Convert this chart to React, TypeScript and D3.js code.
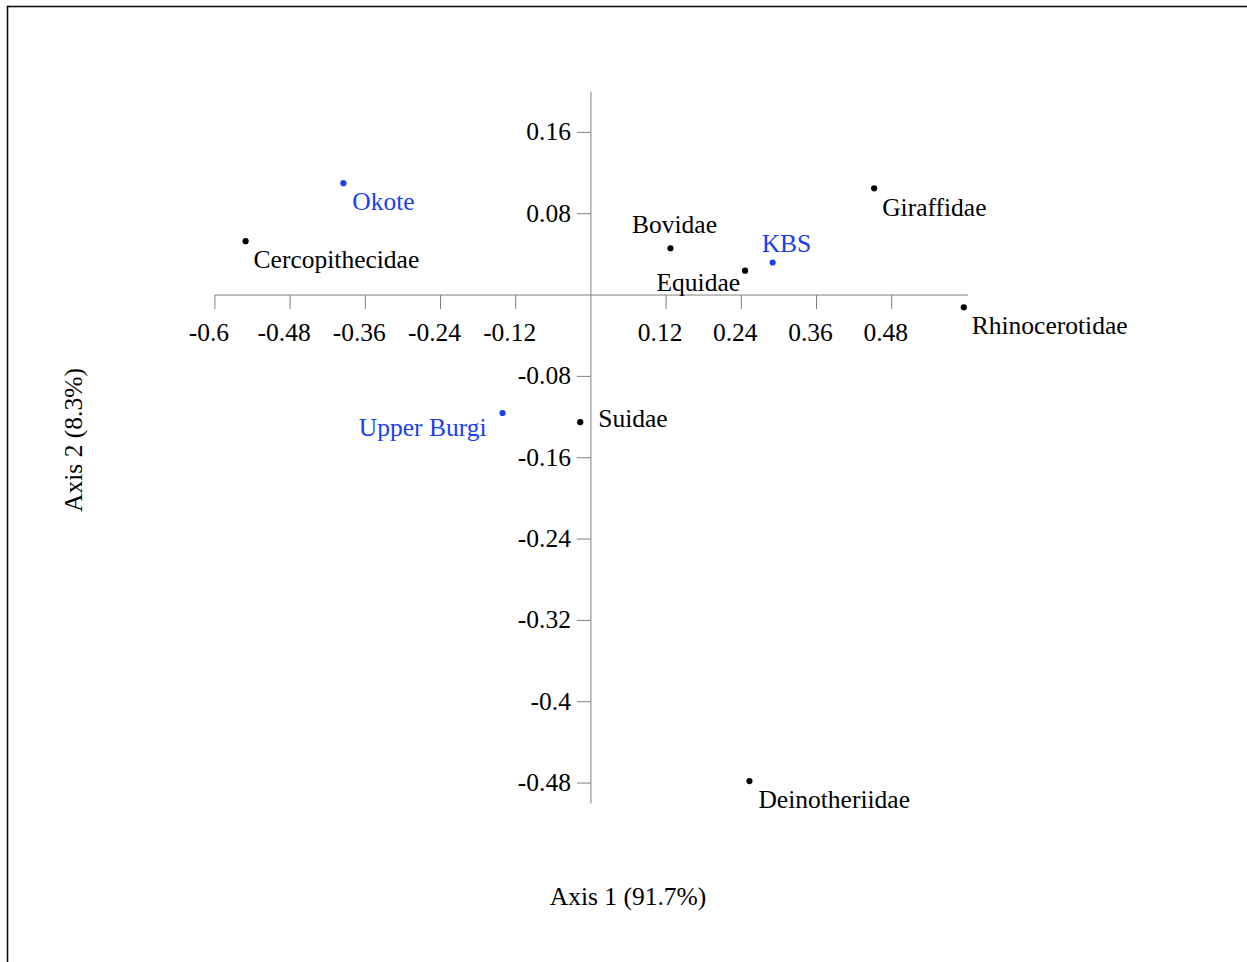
import React from "react";
import * as d3 from "d3";

// Correspondence analysis scores: taxa (black) and members (blue)
const taxa = ["Cercopithecidae", "Bovidae", "Equidae", "Giraffidae", "Rhinocerotidae", "Suidae", "Deinotheriidae"];
const taxaAxis1 = [-0.551, 0.127, 0.246, 0.452, 0.595, -0.017, 0.253];
const taxaAxis2 = [0.053, 0.046, 0.024, 0.105, -0.012, -0.125, -0.478];

const members = ["Okote", "KBS", "Upper Burgi"];
const membersAxis1 = [-0.395, 0.29, -0.141];
const membersAxis2 = [0.11, 0.032, -0.116];

const xTicks = [-0.6, -0.48, -0.36, -0.24, -0.12, 0.12, 0.24, 0.36, 0.48];
const yTicks = [0.16, 0.08, -0.08, -0.16, -0.24, -0.32, -0.4, -0.48];

const xTitle = "Axis 1 (91.7%)";
const yTitle = "Axis 2 (8.3%)";

// label placement relative to each point: [dx, dy, anchor]
const labelPlacement: Record<string, [number, number, string]> = {
  Cercopithecidae: [8, 27, "start"],
  Bovidae: [4, -15, "middle"],
  Equidae: [-5, 20, "end"],
  Giraffidae: [8, 28, "start"],
  Rhinocerotidae: [8, 27, "start"],
  Suidae: [18, 5, "start"],
  Deinotheriidae: [9, 27, "start"],
  Okote: [9, 27, "start"],
  KBS: [-11, -11, "start"],
  "Upper Burgi": [-16, 23, "end"],
};

const FONT = "'Liberation Serif', 'Times New Roman', serif";
const BLUE = "#1a3ff2";
const AXIS = "#808080";

export default function App() {
  const x = d3.scaleLinear().domain([-0.6, 0.6]).range([214.9, 966.9]);
  const y = d3.scaleLinear().domain([-0.5, 0.2]).range([803.4, 91.7]);
  const x0 = x(0);
  const y0 = y(0);

  const points = [
    ...taxa.map((name, i) => ({ name, a: taxaAxis1[i], b: taxaAxis2[i], color: "#000" })),
    ...members.map((name, i) => ({ name, a: membersAxis1[i], b: membersAxis2[i], color: BLUE })),
  ];

  return (
    <svg
      width={1247}
      height={962}
      style={{ position: "absolute", left: 0, top: 0, background: "#fff" }}
      fontFamily={FONT}
      fontSize={25.5}
    >
      <rect x={7.5} y={6.5} width={1300} height={1000} fill="none" stroke="#111" strokeWidth={1.6} />

      {/* horizontal axis */}
      <line x1={x(-0.6)} x2={x(0.6) + 1} y1={y0} y2={y0} stroke={AXIS} strokeWidth={1} />
      {xTicks.map((t) => (
        <g key={"xt" + t}>
          <line x1={x(t)} x2={x(t)} y1={y0} y2={y0 + 14} stroke={AXIS} strokeWidth={1} />
          <text x={x(t) - 6} y={y0 + 46} textAnchor="middle" fill="#000">
            {String(t)}
          </text>
        </g>
      ))}

      {/* vertical axis */}
      <line x1={x0} x2={x0} y1={y(0.2)} y2={y(-0.5)} stroke={AXIS} strokeWidth={1} />
      {yTicks.map((t) => (
        <g key={"yt" + t}>
          <line x1={x0 - 14} x2={x0} y1={y(t)} y2={y(t)} stroke={AXIS} strokeWidth={1} />
          <text x={x0 - 20} y={y(t) + 8} textAnchor="end" fill="#000">
            {String(t)}
          </text>
        </g>
      ))}

      {/* scores */}
      {points.map((p) => {
        const [dx, dy, anchor] = labelPlacement[p.name];
        const px = x(p.a);
        const py = y(p.b);
        return (
          <g key={p.name}>
            <circle cx={px} cy={py} r={3.1} fill={p.color} />
            <text x={px + dx} y={py + dy} textAnchor={anchor as any} fill={p.color}>
              {p.name}
            </text>
          </g>
        );
      })}

      {/* axis titles */}
      <text x={628} y={905} textAnchor="middle" fill="#000">
        {xTitle}
      </text>
      <text transform={`translate(82, 440) rotate(-90)`} textAnchor="middle" fill="#000">
        {yTitle}
      </text>
    </svg>
  );
}
